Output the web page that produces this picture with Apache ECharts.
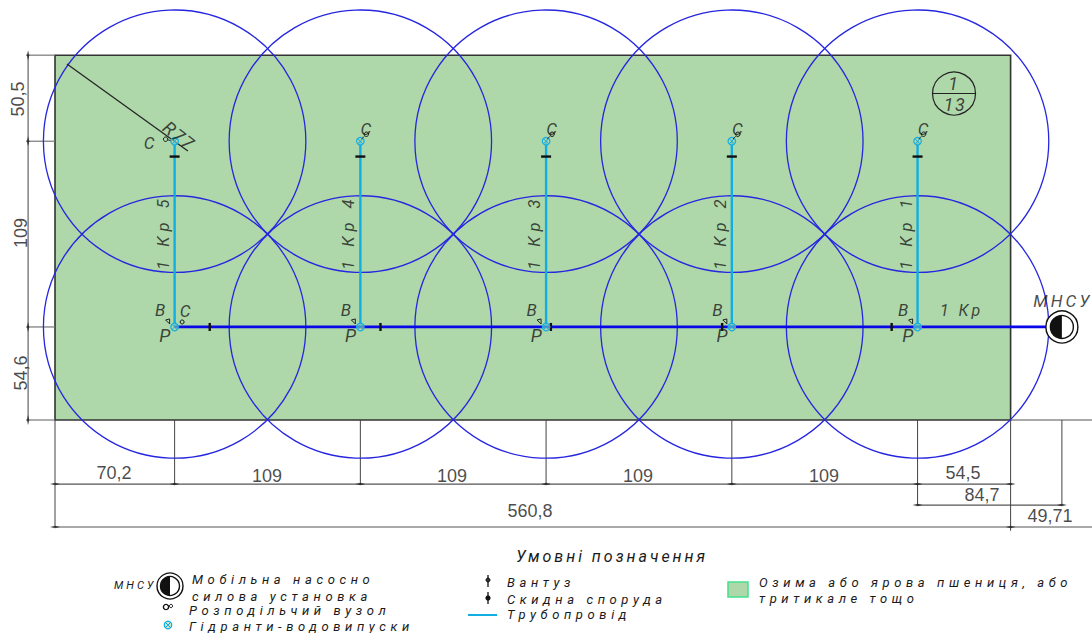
<!DOCTYPE html>
<html><head><meta charset="utf-8">
<script src="https://cdn.jsdelivr.net/npm/echarts@6/dist/echarts.min.js"></script>
<style>
html,body{margin:0;padding:0;background:#fff}
#c{width:1092px;height:633px}
text[style*="italic"]{letter-spacing:3px}
text[style*="italic"][style*="13px"]{letter-spacing:4.6px}
text[style*="italic"][style*="18px"]{letter-spacing:1.5px}
text[style*="italic"][style*="16.5px"]{letter-spacing:5px}
</style></head><body><div id="c"></div>
<script>
const fieldWidth = 560.8;
const fieldHeight = 214.1;
const mainY = 54.6;
const lateralEndY = 163.6;
const lateralLabelY = 113.8;
const sprinklerRadius = 77;
const hydrantX = [70.2, 179.2, 288.2, 397.2, 506.2];
const lateralNames = ['1 Кр 5', '1 Кр 4', '1 Кр 3', '1 Кр 2', '1 Кр 1'];
const pumpX = 590.9;
const drainX = [90.8, 191, 291, 391.5, 491];
const drainLateralY = 154.6;
const dimH = [[0, -37.6, 560.8, -37.6], [506.2, -49.9, 590.9, -49.9], [0, -62.8, 610, -62.8], [560.8, 0, 610, 0]];
const dimV = [[-15.8, 0, -15.8, 214.1], [0, 0, 0, -62.8], [70.2, 0, 70.2, -37.6], [179.2, 0, 179.2, -37.6],
  [288.2, 0, 288.2, -37.6], [397.2, 0, 397.2, -37.6], [506.2, 0, 506.2, -49.9], [560.8, 0, 560.8, -65], [590.9, 0, 590.9, -49.9]];
const dimExt = [[-17, 214.1, 0, 214.1], [-17, 163.6, 0, 163.6], [-17, 54.6, 0, 54.6], [-17, 0, 0, 0]];
const dimMarksH = [[0, -37.6], [70.2, -37.6], [179.2, -37.6], [288.2, -37.6], [397.2, -37.6], [506.2, -37.6], [560.8, -37.6],
  [506.2, -49.9], [590.9, -49.9], [0, -62.8], [560.8, -62.8]];
const dimMarksV = [[-15.8, 214.1], [-15.8, 163.6], [-15.8, 54.6], [-15.8, 0]];
const dimTexts = ['70,2', '109', '109', '109', '109', '54,5', '84,7', '560,8', '49,71'];
const dimTextX = [34.6, 124.4, 233, 342.1, 451.3, 532.9, 544, 278.8, 583.9];
const dimTextY = [-31.1, -32.9, -32.9, -32.9, -32.9, -31.1, -44, -53.4, -56.3];
const dimTextsV = ['50,5', '109', '54,6'];
const dimTextVX = [-21.7, -20, -20];
const dimTextVY = [188.4, 109.7, 27.6];
const radiusLine = [7, 208.9, 78, 157.8];
const sheetMark = [527.6, 191.6];

const COL = {field:'#aed7aa', blue:'#2626e0', main:'#0808e6', cyan:'#12aee2', ink:'#1a1a1a', dim:'#444', grey:'#777'};
const IT = '"Roboto",sans-serif';

const circleData = [];
hydrantX.forEach(x => { circleData.push([x, mainY]); circleData.push([x, lateralEndY]); });

function segSeries(data, color, width, z) {
  return {type:'custom', z, silent:true, coordinateSystem:'cartesian2d', clip:false, data,
    encode:{x:[0,2], y:[1,3]},
    renderItem(p, api) {
      const a = api.coord([api.value(0), api.value(1)]), b = api.coord([api.value(2), api.value(3)]);
      return {type:'line', shape:{x1:a[0], y1:a[1], x2:b[0], y2:b[1]}, style:{stroke:color, lineWidth:width, fill:null}};
    }};
}
function pt(api) { return api.coord([api.value(0), api.value(1)]); }
function hydrantShape(c) {
  const r = 3.8, d = 2.6, st = {stroke:COL.cyan, lineWidth:1, fill:null};
  return {type:'group', children:[
    {type:'circle', shape:{cx:c[0], cy:c[1], r}, style:{stroke:COL.cyan, lineWidth:1.2, fill:'rgba(174,215,170,.6)'}},
    {type:'line', shape:{x1:c[0]-d, y1:c[1]-d, x2:c[0]+d, y2:c[1]+d}, style:st},
    {type:'line', shape:{x1:c[0]-d, y1:c[1]+d, x2:c[0]+d, y2:c[1]-d}, style:st}]};
}
function pumpShape(c, R, r, lw) {
  return {type:'group', children:[
    {type:'circle', shape:{cx:c[0], cy:c[1], r:R}, style:{fill:'#fff', stroke:'#111', lineWidth:lw}},
    {type:'circle', shape:{cx:c[0], cy:c[1], r}, style:{fill:'#fff', stroke:'#111', lineWidth:lw}},
    {type:'sector', shape:{cx:c[0], cy:c[1], r0:0, r, startAngle:Math.PI/2, endAngle:Math.PI*1.5}, style:{fill:'#111'}}]};
}

// text annotations, in data coordinates with small pixel nudges
const notes = [];
function note(text, x, y, dx, dy, size, rot) {
  notes.push({value:[x, y], label:{show:true, formatter:text, position:'inside', offset:[dx, dy], rotate:rot||0,
    fontFamily:IT, fontStyle:'italic', fontSize:size, color:COL.ink, align:'center', verticalAlign:'middle'}});
}
hydrantX.forEach((x, i) => {
  note(lateralNames[i], x, lateralLabelY, -6, -11.5, 16.5, 90);
  note('В', x, mainY, -13, -17, 17);
  note('Р', x, mainY, -9, 9, 18);
  if (i === 0) { note('С', x, mainY, 12, -16, 17); note('С', x, lateralEndY, -24, 2, 17); }
  else note('С', x, lateralEndY, 7, -12, 17);
});
note('1 Кр', 532, mainY, 0, -16, 16);
note('МНСУ', pumpX, mainY, 1, -26, 17);
note('R77', 70.2, lateralEndY, 0, -7, 18, -38);
note('1', sheetMark[0], sheetMark[1], 0, -10, 18);
note('13', sheetMark[0], sheetMark[1], 1, 11, 18);

const dimLabels = dimTexts.map((t, i) => ({value:[dimTextX[i], dimTextY[i]], label:{show:true, formatter:t, position:'inside', fontFamily:'"Liberation Sans"', fontSize:18, color:'#1a1a1a'}}))
  .concat(dimTextsV.map((t, i) => ({value:[dimTextVX[i], dimTextVY[i]], label:{show:true, formatter:t, position:'inside', rotate:90, fontFamily:'"Liberation Sans"', fontSize:18, color:'#1a1a1a'}})));

// legend (page-level key, laid out in pixels)
const legendTexts = [
  ['Умовні позначення', 516, 556, 16], ['МНСУ', 114, 585, 11],
  ['Мобільна насосно', 192, 579, 13], ['силова установка', 192, 596, 13],
  ['Розподільчий вузол', 189, 610, 13], ['Гідранти-водовипуски', 189, 626, 13],
  ['Вантуз', 507, 582, 13], ['Скидна споруда', 507, 599, 13], ['Трубопровід', 507, 614, 13],
  ['Озима або ярова пшениця, або', 759, 582, 13], ['тритикале тощо', 759, 598, 13]];
const graphic = legendTexts.map(t => ({type:'text', x:t[1], y:t[2], style:{text:t[0], font:'italic ' + t[3] + 'px ' + IT, fill:COL.ink, textVerticalAlign:'middle'}}));
const hs = hydrantShape([168, 625]);
hs.children.forEach(c => graphic.push(c));
const ps = pumpShape([170, 586], 13, 9.5, 1.4);
ps.children.forEach(c => graphic.push(c));
graphic.push(
  {type:'circle', shape:{cx:166, cy:607, r:2.6}, style:{fill:'#fff', stroke:'#111', lineWidth:1.4}},
  {type:'circle', shape:{cx:171, cy:606, r:1.6}, style:{fill:'#fff', stroke:'#111', lineWidth:1}},
  {type:'line', shape:{x1:488, y1:575, x2:488, y2:587}, style:{stroke:'#111', lineWidth:1.3}},
  {type:'circle', shape:{cx:488, cy:580, r:2}, style:{fill:'#333', stroke:'#111', lineWidth:1}},
  {type:'line', shape:{x1:488, y1:592, x2:488, y2:604}, style:{stroke:'#111', lineWidth:1.3}},
  {type:'circle', shape:{cx:488, cy:598, r:2.6}, style:{fill:'#111'}},
  {type:'line', shape:{x1:468, y1:615, x2:497, y2:615}, style:{stroke:COL.cyan, lineWidth:2}},
  {type:'rect', shape:{x:728, y:582, width:20, height:15}, style:{fill:COL.field, stroke:'#45e08a', lineWidth:1.5}}
);
graphic.forEach(g => { g.silent = true; g.z = 20; });

const chart = echarts.init(document.getElementById('c'), null, {renderer:'svg', width:1092, height:633});
chart.setOption({
  animation:false,
  backgroundColor:'#fff',
  grid:{left:0, right:0, top:0, bottom:0},
  xAxis:{type:'value', min:-32.28, max:608.57, show:false},
  yAxis:{type:'value', min:-125, max:246.48, show:false},
  graphic,
  series:[
    {type:'custom', z:1, silent:true, clip:false, data:[[0, 0, fieldWidth, fieldHeight]], encode:{x:[0,2], y:[1,3]},
      renderItem(p, api) {
        const a = api.coord([api.value(0), api.value(3)]), b = api.coord([api.value(2), api.value(1)]);
        return {type:'rect', shape:{x:a[0], y:a[1], width:b[0]-a[0], height:b[1]-a[1]}, style:{fill:COL.field, stroke:'#333', lineWidth:1.6}};
      }},
    segSeries(dimExt, COL.grey, 1.2, 2),
    segSeries(dimH, '#555', 1.2, 2),
    segSeries(dimV, '#444', 1, 2),
    {type:'custom', z:3, silent:true, clip:false, data:circleData, encode:{x:0, y:1},
      renderItem(p, api) {
        const c = pt(api), r = api.size([sprinklerRadius, 0])[0];
        return {type:'circle', shape:{cx:c[0], cy:c[1], r}, style:{fill:null, stroke:COL.blue, lineWidth:1.3}};
      }},
    segSeries([radiusLine], '#222', 1.2, 4),
    segSeries(hydrantX.map(x => [x, mainY, x, lateralEndY]), COL.cyan, 2.4, 5),
    segSeries([[hydrantX[0], mainY, pumpX, mainY]], COL.main, 2.8, 6),
    {type:'custom', z:7, silent:true, clip:false, data:drainX.map(x => [x, mainY]), encode:{x:0, y:1},
      renderItem(p, api) { const c = pt(api); return {type:'line', shape:{x1:c[0], y1:c[1]-4, x2:c[0], y2:c[1]+4}, style:{stroke:'#111', lineWidth:2.4}}; }},
    {type:'custom', z:7, silent:true, clip:false, data:hydrantX.map(x => [x, drainLateralY]), encode:{x:0, y:1},
      renderItem(p, api) { const c = pt(api); return {type:'line', shape:{x1:c[0]-5, y1:c[1], x2:c[0]+5, y2:c[1]}, style:{stroke:'#111', lineWidth:2.4}}; }},
    {type:'custom', z:8, silent:true, clip:false, data:hydrantX.flatMap(x => [[x, mainY], [x, lateralEndY]]), encode:{x:0, y:1},
      renderItem(p, api) { return hydrantShape(pt(api)); }},
    {type:'custom', z:8, silent:true, clip:false, data:hydrantX.map((x, i) => [x, lateralEndY, i]), encode:{x:0, y:1},
      renderItem(p, api) {
        const c = pt(api), left = api.value(2) === 0;
        return {type:'group', children:[
          {type:'circle', shape:{cx:c[0] + (left ? -9 : 6), cy:c[1] + (left ? -2 : -7), r:2.2}, style:{fill:null, stroke:'#111', lineWidth:1}},
          {type:'line', shape:{x1:c[0] + (left ? -7 : 4), y1:c[1] + (left ? -1.5 : -5), x2:c[0] + (left ? -4 : 1), y2:c[1] + (left ? -0.5 : -2)}, style:{stroke:'#111', lineWidth:0.8}}]};
      }},
    {type:'custom', z:8, silent:true, clip:false, data:hydrantX.map((x, i) => [x, mainY, i]), encode:{x:0, y:1},
      renderItem(p, api) {
        const c = pt(api);
        const children = [{type:'polygon', shape:{points:[[c[0]-9, c[1]-7], [c[0]-5, c[1]-8], [c[0]-5, c[1]-3]]}, style:{fill:null, stroke:'#222', lineWidth:1}}];
        if (api.value(2) === 0) children.push({type:'circle', shape:{cx:c[0]+7.5, cy:c[1]-5, r:2}, style:{fill:null, stroke:'#111', lineWidth:1}});
        return {type:'group', children};
      }},
    {type:'custom', z:9, silent:true, clip:false, data:[[pumpX, mainY]], encode:{x:0, y:1},
      renderItem(p, api) { return pumpShape(pt(api), 16, 11.5, 1.4); }},
    {type:'custom', z:9, silent:true, clip:false, data:[sheetMark], encode:{x:0, y:1},
      renderItem(p, api) {
        const c = pt(api);
        return {type:'group', children:[
          {type:'circle', shape:{cx:c[0], cy:c[1], r:21.5}, style:{fill:null, stroke:'#222', lineWidth:1.2}},
          {type:'line', shape:{x1:c[0]-21.5, y1:c[1], x2:c[0]+21.5, y2:c[1]}, style:{stroke:'#222', lineWidth:1.2}}]};
      }},
    {type:'scatter', z:4, silent:true, symbol:'diamond', symbolSize:[10, 2.4], itemStyle:{color:'#222'}, data:dimMarksH},
    {type:'scatter', z:4, silent:true, symbol:'diamond', symbolSize:[2.4, 10], itemStyle:{color:'#222'}, data:dimMarksV},
    {type:'scatter', z:10, silent:true, symbolSize:0, data:dimLabels},
    {type:'scatter', z:10, silent:true, symbolSize:0, data:notes}
  ]
});
</script></body></html>
